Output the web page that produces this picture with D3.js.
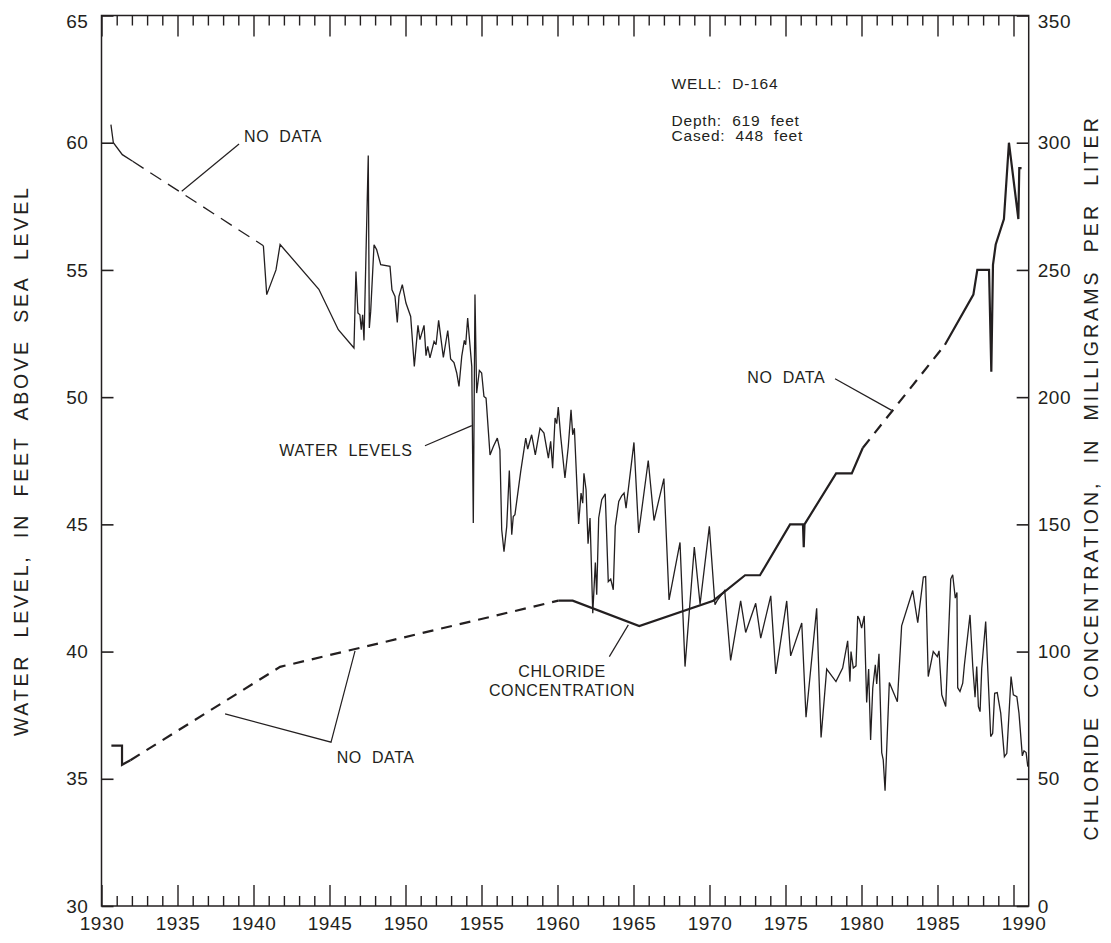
<!DOCTYPE html>
<html>
<head>
<meta charset="utf-8">
<script src="https://cdn.jsdelivr.net/npm/d3@7"></script>
<style>
  html, body { margin: 0; padding: 0; background: #fff; }
  svg text { font-family: "Liberation Sans", Arial, Helvetica, sans-serif; fill: #231f20; white-space: pre; }
</style>
</head>
<body>
<svg id="chart" width="1111" height="943"></svg>
<script>
// Well D-164: water level (ft above sea level) and chloride (mg/L), 1930-1990

// Tick values
const yearTicks = d3.range(1930, 1991);          // yearly ticks, labelled every 5 years
const levelTicks = [30, 35, 40, 45, 50, 55, 60, 65];
const chlorideTicks = [0, 50, 100, 150, 200, 250, 300, 350];

// Water level record [year, feet]
const waterEarly = [[1930.62, 60.71], [1930.78, 60.0], [1931.37, 59.53], [1932.05, 59.27]];
const waterGap = [[1932.05, 59.27], [1940.65, 55.95]];
const waterRecord = [
  [1940.65, 55.95], [1940.87, 54.03], [1941.48, 55.0], [1941.75, 56.0], [1944.3, 54.24],
  [1945.58, 52.65], [1946.61, 51.93], [1946.74, 54.94], [1946.87, 53.31], [1947.0, 53.24],
  [1947.09, 52.65], [1947.18, 53.24], [1947.27, 52.23], [1947.55, 59.5], [1947.62, 52.72],
  [1947.71, 53.37], [1947.93, 55.99], [1948.1, 55.8], [1948.37, 55.21], [1948.98, 55.14],
  [1949.11, 54.22], [1949.31, 53.96], [1949.46, 52.94], [1949.57, 53.96], [1949.79, 54.42],
  [1950.03, 53.7], [1950.34, 53.17], [1950.58, 51.21], [1950.82, 52.82], [1950.95, 52.26],
  [1951.22, 52.82], [1951.35, 51.63], [1951.46, 52.0], [1951.61, 51.54], [1951.88, 52.19],
  [1952.01, 52.06], [1952.18, 53.02], [1952.49, 51.56], [1952.78, 52.62], [1952.97, 51.5],
  [1953.19, 51.36], [1953.37, 50.95], [1953.52, 50.42], [1953.7, 51.6], [1953.87, 52.23],
  [1953.96, 52.06], [1954.09, 53.11], [1954.36, 51.21], [1954.46, 45.05], [1954.57, 54.03],
  [1954.68, 50.16], [1954.86, 51.05], [1955.01, 50.95], [1955.16, 50.03], [1955.3, 49.96],
  [1955.56, 47.73], [1955.78, 48.06], [1956.04, 48.39], [1956.21, 47.93], [1956.33, 44.79],
  [1956.48, 43.93], [1956.66, 44.92], [1956.83, 47.12], [1956.99, 44.59], [1957.09, 45.31],
  [1957.2, 45.38], [1957.58, 47.08], [1957.91, 48.39], [1958.04, 47.96], [1958.3, 48.52],
  [1958.54, 47.73], [1958.85, 48.78], [1959.11, 48.59], [1959.4, 47.6], [1959.55, 48.26],
  [1959.68, 47.21], [1959.84, 49.18], [1959.95, 48.96], [1960.05, 49.61], [1960.21, 48.46],
  [1960.49, 46.82], [1960.71, 48.06], [1960.89, 49.5], [1961.0, 48.52], [1961.11, 48.78],
  [1961.39, 45.02], [1961.55, 46.23], [1961.66, 45.83], [1961.74, 47.01], [1961.88, 46.36],
  [1962.01, 44.24], [1962.14, 45.25], [1962.32, 41.51], [1962.49, 43.5], [1962.58, 42.23],
  [1962.71, 45.25], [1962.91, 45.97], [1963.14, 46.2], [1963.34, 42.75], [1963.5, 42.85],
  [1963.67, 42.43], [1963.8, 44.92], [1964.03, 45.9], [1964.22, 46.12], [1964.38, 46.23],
  [1964.51, 45.64], [1965.03, 48.22], [1965.34, 44.66], [1965.97, 47.51], [1966.35, 45.15],
  [1967.0, 46.8], [1967.34, 42.03], [1968.06, 44.29], [1968.39, 39.41], [1969.0, 44.11],
  [1969.38, 41.86], [1969.99, 44.92], [1970.36, 41.84], [1970.5, 42.0], [1971.0, 42.4],
  [1971.39, 39.65], [1972.05, 41.99], [1972.38, 40.75], [1973.04, 41.9], [1973.37, 40.53],
  [1974.03, 42.19], [1974.36, 39.12], [1975.08, 41.99], [1975.34, 39.83], [1976.07, 41.12],
  [1976.35, 37.42], [1977.05, 41.7], [1977.34, 36.62], [1977.71, 39.31], [1978.32, 38.82],
  [1978.76, 39.35], [1979.09, 40.42], [1979.24, 38.82], [1979.31, 40.0], [1979.46, 39.35],
  [1979.64, 39.44], [1979.75, 41.4], [1979.86, 41.27], [1980.01, 40.92], [1980.18, 41.4],
  [1980.34, 38.0], [1980.47, 39.31], [1980.6, 36.53], [1980.74, 38.56], [1980.91, 39.48],
  [1981.0, 38.73], [1981.15, 39.91], [1981.33, 36.03], [1981.43, 35.74], [1981.55, 34.53],
  [1981.83, 38.78], [1982.36, 38.03], [1982.64, 41.01], [1983.37, 42.4], [1983.7, 41.14],
  [1984.07, 42.93], [1984.22, 42.95], [1984.39, 39.02], [1984.72, 40.0], [1984.99, 39.8],
  [1985.1, 40.03], [1985.28, 38.3], [1985.54, 37.84], [1985.87, 42.85], [1986.0, 43.02],
  [1986.17, 42.1], [1986.28, 42.32], [1986.33, 38.58], [1986.48, 38.43], [1986.66, 38.76],
  [1986.77, 39.48], [1987.14, 41.44], [1987.32, 39.41], [1987.47, 38.21], [1987.58, 39.41],
  [1987.69, 37.84], [1987.8, 37.64], [1987.91, 39.35], [1988.17, 41.18], [1988.5, 36.66],
  [1988.63, 36.79], [1988.76, 38.36], [1988.93, 38.39], [1989.16, 37.58], [1989.4, 35.87],
  [1989.56, 36.0], [1989.84, 39.02], [1989.99, 38.3], [1990.22, 38.23], [1990.36, 37.58],
  [1990.58, 35.9], [1990.69, 36.1], [1990.83, 36.03], [1990.94, 35.48]
];

// Chloride record [year, mg/L]
const chlorideEarly = [[1930.65, 63], [1931.35, 63], [1931.35, 55.5], [1931.9, 57.3]];
const chlorideGap1 = [[1931.9, 57.3], [1941.75, 94], [1960.05, 120]];
const chlorideMid = [
  [1960.05, 120], [1961.0, 120], [1965.38, 110], [1970.25, 120], [1971.0, 123.6],
  [1972.34, 130], [1973.32, 130], [1975.3, 150], [1976.15, 150], [1976.2, 141],
  [1976.25, 150], [1978.33, 170], [1979.36, 170], [1980.08, 180]
];
const chlorideGap2 = [[1980.08, 180], [1985.49, 220.6]];
const chlorideLate = [
  [1985.49, 220.6], [1987.36, 240.3], [1987.62, 250], [1988.39, 250], [1988.54, 210],
  [1988.65, 252], [1988.83, 260], [1989.37, 270], [1989.7, 300], [1990.32, 270],
  [1990.38, 290], [1990.53, 290]
];

const ink = "#231f20";
const fontStack = '"Liberation Sans", Arial, Helvetica, sans-serif';
const svg = d3.select("#chart");

const x = d3.scaleLinear().domain([1930, 1991]).range([101.5, 1028.7]);
const yL = d3.scaleLinear().domain([30, 65]).range([906, 15.5]);
const yR = d3.scaleLinear().domain([0, 350]).range([906, 15.5]);

const [x0, x1] = x.range();
const [y0, y1] = yL.range();

// Frame
svg.append("rect")
  .attr("x", x0).attr("y", y1)
  .attr("width", x1 - x0).attr("height", y0 - y1)
  .attr("fill", "none").attr("stroke", ink).attr("stroke-width", 1.5);

const isMajor = d => d % 5 === 0;
const tickFont = g => g.selectAll("text")
  .style("font-family", fontStack)
  .style("font-size", "19px").style("letter-spacing", "0.6px").attr("fill", ink);

// Bottom axis with year labels
const gBottom = svg.append("g").attr("transform", `translate(0,${y0})`)
  .call(d3.axisBottom(x).tickValues(yearTicks).tickSize(-10).tickPadding(11)
    .tickFormat(d => isMajor(d) ? String(d) : ""));
gBottom.select(".domain").remove();
gBottom.selectAll(".tick line").attr("stroke", ink).attr("stroke-width", 1.4)
  .filter(isMajor).attr("y2", -21);
gBottom.call(tickFont);
gBottom.selectAll(".tick text").filter(d => d === 1990).attr("dx", 10);

// Top axis, ticks only
const gTop = svg.append("g").attr("transform", `translate(0,${y1})`)
  .call(d3.axisTop(x).tickValues(yearTicks).tickSize(-10).tickFormat(""));
gTop.select(".domain").remove();
gTop.selectAll(".tick line").attr("stroke", ink).attr("stroke-width", 1.4)
  .filter(isMajor).attr("y2", 21);

// Left axis: water level
const gLeft = svg.append("g").attr("transform", `translate(${x0},0)`)
  .call(d3.axisLeft(yL).tickValues(levelTicks).tickSize(-12).tickPadding(13));
gLeft.select(".domain").remove();
gLeft.selectAll(".tick line").attr("stroke", ink).attr("stroke-width", 1.6);
gLeft.call(tickFont);
gLeft.selectAll(".tick text").filter(d => d === 65).attr("y", 6);

// Right axis: chloride
const gRight = svg.append("g").attr("transform", `translate(${x1},0)`)
  .call(d3.axisRight(yR).tickValues(chlorideTicks).tickSize(-12).tickPadding(9));
gRight.select(".domain").remove();
gRight.selectAll(".tick line").attr("stroke", ink).attr("stroke-width", 1.6);
gRight.call(tickFont);
gRight.selectAll(".tick text").filter(d => d === 350).attr("y", 6);

// Axis titles
svg.append("text")
  .attr("transform", `translate(28,${(y0 + y1) / 2}) rotate(-90)`)
  .attr("text-anchor", "middle")
  .style("font-size", "19.5px").style("letter-spacing", "2.8px")
  .text("WATER  LEVEL,  IN  FEET  ABOVE  SEA  LEVEL");

svg.append("text")
  .attr("transform", `translate(1098,${(y0 + y1) / 2 + 17}) rotate(-90)`)
  .attr("text-anchor", "middle")
  .style("font-size", "19.5px").style("letter-spacing", "3.1px")
  .text("CHLORIDE  CONCENTRATION,  IN  MILLIGRAMS  PER  LITER");

// Series
const lineL = d3.line().x(d => x(d[0])).y(d => yL(d[1]));
const lineR = d3.line().x(d => x(d[0])).y(d => yR(d[1]));

const plot = svg.append("g").attr("fill", "none").attr("stroke", ink)
  .attr("stroke-linejoin", "miter").attr("stroke-miterlimit", 3);

plot.append("path").attr("d", lineL(waterEarly)).attr("stroke-width", 1.3);
plot.append("path").attr("d", lineL(waterGap)).attr("stroke-width", 1.3)
  .attr("stroke-dasharray", "13,8");
plot.append("path").attr("d", lineL(waterRecord)).attr("stroke-width", 1.3);

plot.append("path").attr("d", lineR(chlorideEarly)).attr("stroke-width", 2.2);
plot.append("path").attr("d", lineR(chlorideGap1)).attr("stroke-width", 2.2)
  .attr("stroke-dasharray", "11,8");
plot.append("path").attr("d", lineR(chlorideMid)).attr("stroke-width", 2.2);
plot.append("path").attr("d", lineR(chlorideGap2)).attr("stroke-width", 2.2)
  .attr("stroke-dasharray", "11,8");
plot.append("path").attr("d", lineR(chlorideLate)).attr("stroke-width", 2.2);

// Annotations (positions in year / water-level units)
const notes = [
  { text: ["NO  DATA"], at: [1939.38, 60.03], anchor: "start" },
  { text: ["WATER  LEVELS"], at: [1941.70, 47.67], anchor: "start" },
  { text: ["NO  DATA"], at: [1945.47, 35.61], anchor: "start" },
  { text: ["CHLORIDE", "CONCENTRATION"], at: [1960.30, 39.0], anchor: "middle", lead: 19 },
  { text: ["NO  DATA"], at: [1972.49, 50.57], anchor: "start" }
];
const leaders = [
  [[1939.05, 59.95], [1935.28, 58.09]],
  [[1951.28, 48.09], [1954.36, 48.88]],
  [[1938.13, 37.55], [1945.1, 36.44], [1946.68, 40.03]],
  [[1963.41, 39.8], [1964.66, 41.05]],
  [[1978.26, 50.72], [1981.99, 49.48]]
];

const ann = svg.append("g");
notes.forEach(n => {
  const t = ann.append("text")
    .attr("x", x(n.at[0])).attr("y", yL(n.at[1]))
    .attr("text-anchor", n.anchor)
    .style("font-family", fontStack)
    .style("font-size", "16px").style("letter-spacing", "0.6px");
  n.text.forEach((s, i) => {
    t.append("tspan").attr("x", x(n.at[0])).attr("dy", i === 0 ? 0 : n.lead).text(s);
  });
});
ann.selectAll("path.leader").data(leaders).join("path")
  .attr("class", "leader")
  .attr("d", lineL).attr("fill", "none").attr("stroke", ink).attr("stroke-width", 1.2);

// Well information block, one text per row
const wellInfo = ["WELL:  D-164", "Depth:  619  feet", "Cased:  448  feet"];
const wellRows = [62.13, 60.67, 60.08];
svg.append("g").selectAll("text").data(wellInfo).join("text")
  .attr("x", x(1967.5))
  .attr("y", (d, i) => yL(wellRows[i]))
  .attr("text-anchor", "start")
  .style("font-family", fontStack)
  .style("font-size", "15.5px").style("letter-spacing", "0.8px")
  .text(d => d);
</script>
</body>
</html>
